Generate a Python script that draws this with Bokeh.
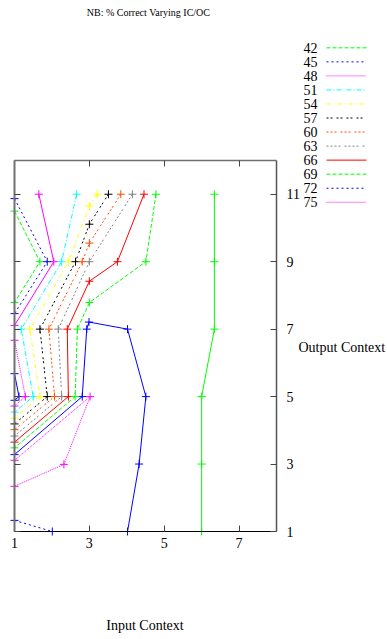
from bokeh.plotting import figure
from bokeh.models import Range1d, LinearAxis, FixedTicker, Label
from bokeh.embed import file_html
from bokeh.resources import INLINE

# ---------------- data ----------------
title_text = "NB: % Correct Varying IC/OC"
x_label = "Input Context"
y_label = "Output Context"
x_ticks = [1, 3, 5, 7]
y_ticks = [1, 3, 5, 7, 9, 11]
levels = ["42", "45", "48", "51", "54", "57", "60", "63", "66", "69", "72", "75"]

c42_x = [1.0, 1.68, 1.0]
c42_y = [10.5, 9.0, 7.79]
c45a_x = [1.0, 1.875, 1.0]
c45a_y = [10.87, 9.0, 7.46]
c45b_x = [1.0, 2.01]
c45b_y = [1.33, 1.0]
c48_x = [1.0, 1.29, 1.0]
c48_y = [6.67, 5.0, 4.72]
c51_x = [2.66, 2.26, 1.18, 1.50, 1.0]
c51_y = [11.0, 9.0, 7.0, 5.0, 4.54]
c54_x = [3.21, 3.0, 2.44, 1.41, 1.68, 1.0]
c54_y = [11.0, 10.65, 9.0, 7.0, 5.0, 4.36]
c57_x = [3.51, 3.0, 2.63, 1.68, 1.875, 1.0]
c57_y = [11.0, 10.11, 9.0, 7.0, 5.0, 4.19]
c60_x = [3.84, 3.0, 2.81, 1.92, 2.07, 1.0]
c60_y = [11.0, 9.55, 9.0, 7.0, 5.0, 4.02]
c63_x = [4.15, 3.0, 2.17, 2.26, 1.0]
c63_y = [11.0, 9.0, 7.0, 5.0, 3.83]
c66_x = [4.46, 3.75, 3.0, 2.41, 2.44, 1.0]
c66_y = [11.0, 9.0, 8.42, 7.0, 5.0, 3.65]
c69_x = [4.78, 4.51, 3.0, 2.68, 2.62, 1.0]
c69_y = [11.0, 9.0, 7.79, 7.0, 5.0, 3.48]
c72_x = [4.02, 4.33, 4.51, 4.02, 2.99, 2.93, 2.81, 1.0]
c72_y = [1.0, 3.0, 5.0, 7.0, 7.21, 7.0, 5.0, 3.28]
c75_x = [1.0, 3.02, 2.32, 1.0]
c75_y = [3.11, 5.0, 2.99, 2.34]
# solid contours without a key entry
mag_solid_x = [1.65, 2.05, 1.0]
mag_solid_y = [11.0, 9.0, 7.11]
blue_bump_x = [1.0, 1.12, 1.0]
blue_bump_y = [5.68, 5.0, 4.89]
green_solid_x = [6.0, 6.0, 6.0, 6.34, 6.34, 6.34]
green_solid_y = [1.0, 3.0, 5.0, 7.0, 9.0, 11.0]

# ---------------- styles / geometry ----------------
RED, GREEN, BLUE, MAG = "#ff0000", "#00ff00", "#0000ff", "#ff00ff"
CYAN, YEL, BLK, ORG, GRY = "#00ffff", "#ffff00", "#000000", "#ff4d00", "#808080"
SERIF = "Liberation Serif"

key_styles = [(GREEN, "4 2"), (BLUE, "2 3"), (MAG, "1 1"), (CYAN, "5 2 1 2"),
              (YEL, "4 3 1 3"), (BLK, "2 2 2 4"), (ORG, "2 2 2 2 2 4"),
              (GRY, "2 2 2 2 2 2 2 4"), (RED, "solid"), (GREEN, "4 2"),
              (BLUE, "2 3"), (MAG, "1 1")]

W, H = 387, 639
BOX_L, BOX_R, BOX_T, BOX_B = 14, 276, 160, 531      # plot box on the page
XA, XB, YA, YB = 1, 8, 1, 12                         # data limits of the plot box
SX = (BOX_R - BOX_L) / (XB - XA)
SY = (BOX_B - BOX_T) / (YB - YA)

p = figure(width=W, height=H, output_backend="svg", toolbar_location=None,
           x_range=Range1d(XA - BOX_L / SX, XB + (W - BOX_R) / SX),
           y_range=Range1d(YA - (H - BOX_B) / SY, YB + BOX_T / SY),
           x_axis_location=None, y_axis_location=None)
p.min_border = 0
p.outline_line_color = None
p.xgrid.visible = False
p.ygrid.visible = False
p.background_fill_color = "white"
p.border_fill_color = "white"


def px2x(px):
    return XA + (px - BOX_L) / SX


def py2y(py):
    return YA + (BOX_B - py) / SY


def mk_axis(ticks, bounds, fixed, show_labels, line_color, line_width, standoff=6):
    ax = LinearAxis(ticker=FixedTicker(ticks=ticks), bounds=bounds, fixed_location=fixed)
    ax.major_tick_in = 6
    ax.major_tick_out = 0
    ax.minor_tick_in = 0
    ax.minor_tick_out = 0
    ax.axis_line_color = line_color
    ax.axis_line_width = line_width
    ax.major_tick_line_color = "#444444"
    ax.major_label_text_font = SERIF
    ax.major_label_text_font_size = "14px"
    ax.major_label_text_color = "black"
    ax.major_label_standoff = standoff
    if not show_labels:
        ax.major_label_overrides = {t: "" for t in ticks}
        ax.major_label_standoff = 0
    return ax


p.add_layout(mk_axis(x_ticks, (XA, XB), YA, True, "black", 1, 6), "below")
p.add_layout(mk_axis(x_ticks, (XA, XB), YB, False, "#707070", 1.5), "above")
p.add_layout(mk_axis(y_ticks, (YA, YB), XA, False, "#707070", 2), "left")
p.add_layout(mk_axis(y_ticks, (YA, YB), XB, True, "#555555", 1.5, 10), "right")


def contour(xs, ys, color, dash="solid"):
    p.line(xs, ys, line_color=color, line_width=1, line_dash=dash)
    p.scatter(xs, ys, marker="cross", size=8, line_color=color, line_width=1)


# solid unlabeled ones first
contour(mag_solid_x, mag_solid_y, MAG)
contour(blue_bump_x, blue_bump_y, BLUE)
contour(green_solid_x, green_solid_y, GREEN)
contour(c72_x, c72_y, BLUE)

contour(c42_x, c42_y, GREEN, "4 2")
contour(c45a_x, c45a_y, BLUE, "2 3")
contour(c45b_x, c45b_y, BLUE, "2 3")
contour(c48_x, c48_y, MAG, "1 1")
contour(c51_x, c51_y, CYAN, "5 2 1 2")
contour(c54_x, c54_y, YEL, "4 3 1 3")
contour(c57_x, c57_y, BLK, "2 2 2 4")
contour(c60_x, c60_y, ORG, "2 2 2 2 2 4")
contour(c63_x, c63_y, GRY, "2 2 2 2 2 2 2 4")
contour(c66_x, c66_y, RED)
contour(c69_x, c69_y, GREEN, "4 2")
contour(c75_x, c75_y, MAG, "1 1")

# key (gnuplot style): level number, then a line sample on its right
ROW = 14.04
KEY_TOP = 40.3
NUM_RIGHT, SAMPLE_L, SAMPLE_R = 317, 326, 366
for i, (lv, (col, dash)) in enumerate(zip(levels, key_styles)):
    yc = py2y(KEY_TOP + ROW * i + ROW / 2)
    p.line([px2x(SAMPLE_L), px2x(SAMPLE_R)], [yc, yc], line_color=col,
           line_width=1, line_dash=dash)
    p.add_layout(Label(x=px2x(NUM_RIGHT), y=yc, text=lv,
                       text_align="right", text_baseline="middle",
                       text_font=SERIF, text_font_size="14px", text_color="black"))

p.add_layout(Label(x=px2x(148), y=py2y(12), text=title_text, text_align="center",
                   text_baseline="middle", text_font=SERIF, text_font_size="10px",
                   text_color="black"))
p.add_layout(Label(x=px2x(144.5), y=py2y(625), text=x_label, text_align="center",
                   text_baseline="middle", text_font=SERIF, text_font_size="14px",
                   text_color="black"))
p.add_layout(Label(x=px2x(298), y=py2y(347), text=y_label, text_align="left",
                   text_baseline="middle", text_font=SERIF, text_font_size="14px",
                   text_color="black"))

open("out.html", "w").write(file_html(p, INLINE))
